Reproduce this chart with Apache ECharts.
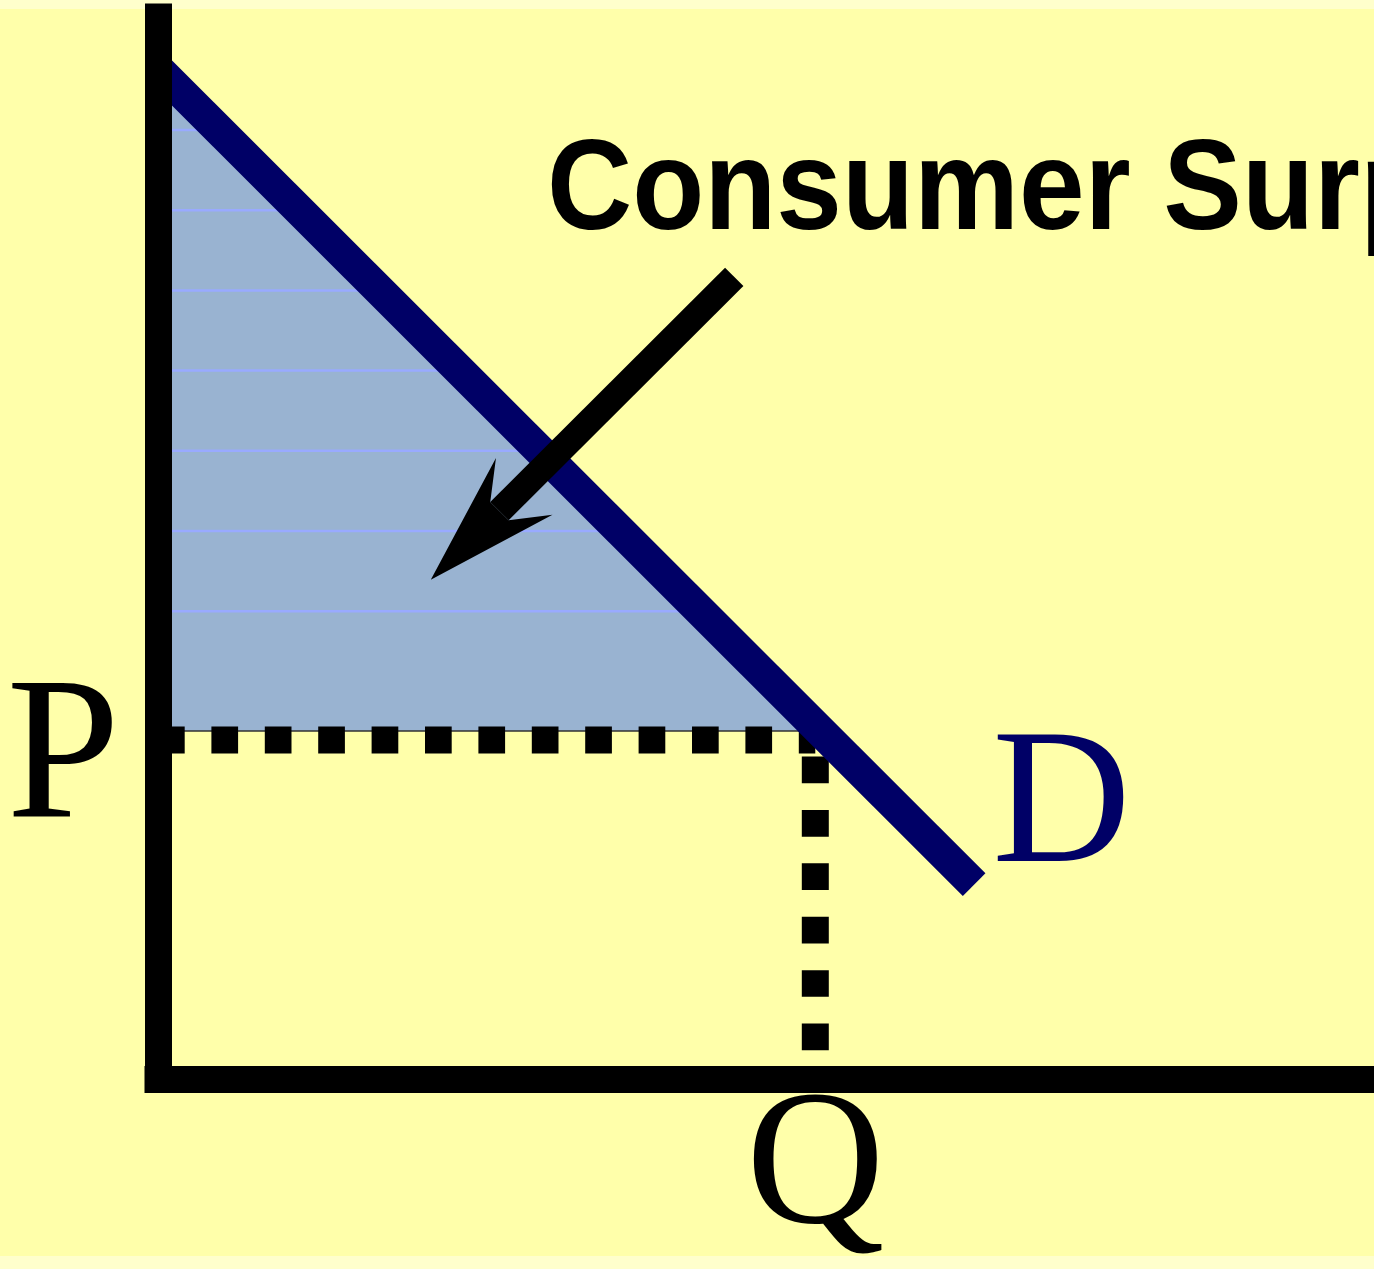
<!DOCTYPE html>
<html>
<head>
<meta charset="utf-8">
<style>
html, body { margin: 0; padding: 0; background: #FFFFCC; }
#main { width: 1374px; height: 1269px; }
</style>
<script src="https://cdn.jsdelivr.net/npm/echarts@6/dist/echarts.min.js"></script>
</head>
<body>
<div id="main"></div>
<script>
// demand curve end points (quantity, price)
var demandQ = [0, 7.45];
var demandP = [8.94, 1.72];
// market price / quantity
var priceP = 3;
var quantityQ = 6;
// bottom of the shaded surplus area
var surplusFloor = 3.08;
// faint lines inside the shaded area
var hatchLevels = [8.40, 7.69, 6.98, 6.27, 5.56, 4.85, 4.14];
// pointer arrow, tail then tip
var arrowFrom = [5.26, 7.10];
var arrowTo = [2.49, 4.42];
// axis labels
var xTickValues = [quantityQ];
var xTickNames = ['Q'];
var yTickValues = [priceP];
var yTickNames = ['P'];
var curveName = 'D';
var noteText = 'Consumer Surplus';

// quantity on the demand line for a given price
function qAt(p) {
	return demandQ[0] + (p - demandP[0]) * (demandQ[1] - demandQ[0]) / (demandP[1] - demandP[0]);
}

function tickName(values, names) {
	return function(v) {
		for (var i = 0; i < values.length; i++) {
			if (Math.abs(v - values[i]) < 1e-6) return names[i];
		}
		return '';
	};
}

var serif = '"Liberation Serif", "Times New Roman", serif';
var myChart = echarts.init(document.getElementById('main'), null, { renderer: 'canvas' });

var option = {
	animation: false,
	backgroundColor: '#FFFFCC',
	grid: { left: 158, right: 0, top: 17, bottom: 190, containLabel: false },
	xAxis: {
		type: 'value', min: 0, max: 11.1, interval: quantityQ, z: 10,
		axisLine: { show: true, onZero: false, lineStyle: { color: '#000', width: 27, cap: 'square' } },
		axisTick: { show: false },
		splitLine: { show: false },
		axisLabel: {
			formatter: tickName(xTickValues, xTickNames),
			fontFamily: serif, fontSize: 192, color: '#000', margin: -3,
			showMaxLabel: false
		}
	},
	yAxis: {
		type: 'value', min: 0, max: 9.4, interval: priceP, z: 10,
		axisLine: { show: true, onZero: false, lineStyle: { color: '#000', width: 27, cap: 'square' } },
		axisTick: { show: false },
		splitLine: { show: false },
		axisLabel: {
			formatter: tickName(yTickValues, yTickNames),
			fontFamily: serif, fontSize: 204, color: '#000', margin: 38,
			verticalAlign: 'top', lineHeight: 44
		}
	},
	graphic: [
		{ type: 'rect', z: -100, silent: true, shape: { x: 0, y: 9, width: 1374, height: 1247 }, style: { fill: '#FFFFAA' } },
		{
			type: 'text', z: 100, x: 547, y: 194, scaleY: 1.08, silent: true,
			style: { text: noteText, font: 'bold 118px "Liberation Sans", Arial, sans-serif', fill: '#000', verticalAlign: 'middle', align: 'left' }
		}
	],
	series: [
		{
			// shaded surplus triangle
			type: 'custom', z: 1, silent: true, clip: false,
			data: [[0, surplusFloor]],
			renderItem: function(params, api) {
				var top = api.coord([demandQ[0], demandP[0]]);
				var corner = api.coord([qAt(surplusFloor), surplusFloor]);
				var base = api.coord([0, surplusFloor]);
				var children = [{
					type: 'polygon', shape: { points: [top, corner, base] },
					style: { fill: '#99B3D1', stroke: '#333', lineWidth: 1.5 }
				}];
				hatchLevels.forEach(function(lv) {
					var a = api.coord([0, lv]);
					var b = api.coord([qAt(lv), lv]);
					children.push({
						type: 'line', shape: { x1: a[0], y1: a[1], x2: b[0], y2: b[1] },
						style: { stroke: '#99AAFF', lineWidth: 2.5 }
					});
				});
				return { type: 'group', children: children };
			}
		},
		{
			// dotted price line
			type: 'line', z: 2, silent: true, symbol: 'none',
			data: [[0, priceP], [quantityQ, priceP]],
			lineStyle: { color: '#000', width: 27, type: [26.7, 26.7], cap: 'butt' }
		},
		{
			// dotted quantity line
			type: 'line', z: 2, silent: true, symbol: 'none',
			data: [[quantityQ, priceP], [quantityQ, 0.25]],
			lineStyle: { color: '#000', width: 27, type: [26.7, 26.7], dashOffset: 36.9, cap: 'butt' }
		},
		{
			// demand curve
			name: curveName, type: 'line', z: 3, silent: true, symbol: 'none', clip: false,
			data: [[demandQ[0], demandP[0]], [demandQ[1], demandP[1]]],
			lineStyle: { color: '#000066', width: 32, cap: 'butt' },
			endLabel: {
				show: true, formatter: curveName, color: '#000066',
				fontFamily: serif, fontSize: 192, distance: 5, offset: [13, -74]
			}
		},
		{
			// arrow pointing at the shaded area
			type: 'custom', z: 4, silent: true, clip: false,
			data: [[arrowFrom[0], arrowFrom[1], arrowTo[0], arrowTo[1]]],
			encode: { x: [0, 2], y: [1, 3] },
			renderItem: function(params, api) {
				var s = api.coord([api.value(0), api.value(1)]);
				var t = api.coord([api.value(2), api.value(3)]);
				var dx = s[0] - t[0], dy = s[1] - t[1];
				var len = Math.sqrt(dx * dx + dy * dy);
				var bx = dx / len, by = dy / len;
				var px = -by, py = bx;
				var pt = function(along, side) {
					return [t[0] + bx * along + px * side, t[1] + by * along + py * side];
				};
				var neck = pt(97, 0);
				return {
					type: 'group',
					children: [
						{ type: 'line', shape: { x1: s[0], y1: s[1], x2: neck[0], y2: neck[1] }, style: { stroke: '#000', lineWidth: 26 } },
						{ type: 'polygon', shape: { points: [t, pt(132, -40), pt(97, -13), pt(97, 13), pt(132, 40)] }, style: { fill: '#000' } }
					]
				};
			}
		}
	]
};

myChart.setOption(option);
</script>
</body>
</html>
